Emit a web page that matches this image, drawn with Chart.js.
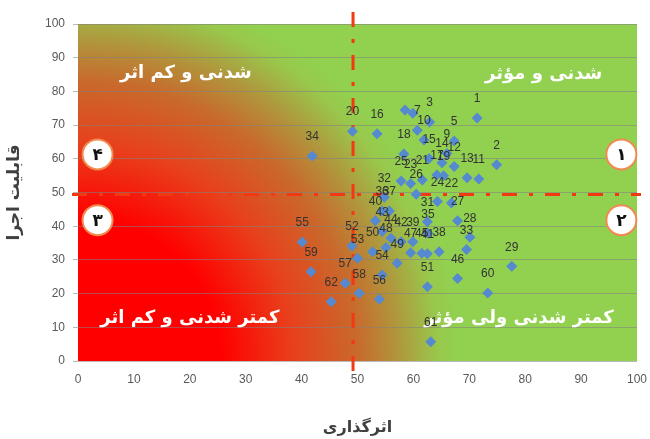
<!DOCTYPE html>
<html>
<head>
<meta charset="utf-8">
<script src="https://cdn.jsdelivr.net/npm/chart.js@4.4.1/dist/chart.umd.min.js"></script>
<style>
  html, body { margin: 0; background: #fff; }
  #wrap { width: 650px; height: 439px; }
</style>
</head>
<body>
<div id="wrap"><canvas id="chart"></canvas></div>
<script>
// project numbers (empty = label hidden in the original)
const pointLabels = ["1", "2", "3", "5", "7", "9", "10", "11", "12", "13", "14", "15", "16", "17", "18", "19", "20", "21", "22", "23",
  "24", "25", "26", "27", "28", "29", "31", "32", "33", "34", "35", "36", "37", "38", "39", "40", "41", "42", "43", "44",
  "45", "46", "47", "48", "49", "50", "51", "52", "53", "54", "55", "56", "57", "58", "59", "60", "61", "62", "", ""];
// اثرگذاری
const impact = [71.4, 74.9, 62.9, 67.3, 60.7, 66.0, 61.9, 71.7, 67.3, 69.6, 65.1, 62.8, 53.5, 64.2, 58.3, 65.4, 49.1, 61.6, 66.8, 59.5,
  64.3, 57.8, 60.5, 67.9, 70.1, 77.6, 62.5, 54.8, 69.5, 41.9, 62.6, 54.4, 55.7, 64.6, 59.9, 53.2, 62.5, 57.8, 54.4, 56.0,
  61.5, 67.9, 59.5, 55.1, 57.1, 52.7, 62.5, 49.0, 50.0, 54.4, 40.1, 53.9, 47.8, 50.3, 41.7, 73.3, 63.1, 45.3, 58.5, 59.9];
// قابلیت اجرا
const feasibility = [72.1, 58.2, 70.9, 65.3, 68.5, 61.6, 65.6, 54.0, 57.7, 54.4, 58.8, 60.1, 67.4, 55.2, 61.4, 55.0, 68.2, 53.7, 46.9, 52.7,
  47.3, 53.4, 49.5, 41.6, 36.7, 28.1, 41.3, 48.6, 33.1, 60.8, 37.9, 44.5, 44.5, 32.4, 35.4, 41.6, 31.8, 35.4, 38.4, 36.4,
  32.0, 24.5, 32.1, 33.7, 29.0, 32.4, 22.0, 34.1, 30.5, 25.5, 35.3, 18.3, 23.1, 20.1, 26.5, 20.2, 5.7, 17.6, 74.5, 73.5];

const thresholdX = 49.2;
const thresholdY = 49.4;

const quadrants = [
  { text: "شدنی و کم اثر", x: 19.3, y: 85.5 },
  { text: "شدنی و مؤثر", x: 83.3, y: 85 },
  { text: "کمتر شدنی و کم اثر", x: 20, y: 12.8 },
  { text: "کمتر شدنی ولی مؤثر", x: 78.9, y: 12.8 },
];
const badges = [
  { text: "۴", x: 3.5, y: 61.3 },
  { text: "۳", x: 3.5, y: 41.8 },
  { text: "۱", x: 97.2, y: 61.3 },
  { text: "۲", x: 97.2, y: 41.8 },
];

const points = impact.map((x, i) => ({ x: x, y: feasibility[i] }));

const background = {
  id: "background",
  beforeDraw(chart) {
    const { ctx, chartArea: a } = chart;
    const g = ctx.createRadialGradient(a.left, a.bottom, 0, a.left, a.bottom, 400);
    g.addColorStop(0, "#ff0000");
    g.addColorStop(0.36, "#ff0000");
    g.addColorStop(0.54, "#e8401c");
    g.addColorStop(0.7, "#c86a2c");
    g.addColorStop(0.8, "#b0963c");
    g.addColorStop(0.9, "#98c84c");
    g.addColorStop(0.95, "#92d050");
    g.addColorStop(1, "#92d050");
    ctx.save();
    ctx.fillStyle = g;
    ctx.fillRect(a.left, a.top, a.right - a.left, a.bottom - a.top);
    ctx.restore();
  },
};

const overlay = {
  id: "overlay",
  beforeDatasetsDraw(chart) {
    const { ctx, chartArea: a, scales } = chart;
    const px = scales.x.getPixelForValue(thresholdX);
    const py = scales.y.getPixelForValue(thresholdY);
    ctx.save();

    // quadrant names
    ctx.fillStyle = "#ffffff";
    ctx.font = "bold 18px 'DejaVu Sans'";
    ctx.textAlign = "center";
    ctx.textBaseline = "middle";
    quadrants.forEach((q) => {
      ctx.fillText(q.text, scales.x.getPixelForValue(q.x), scales.y.getPixelForValue(q.y));
    });

    // dash-dot threshold lines
    ctx.strokeStyle = "#f23a12";
    ctx.lineWidth = 3;
    ctx.setLineDash([15, 12, 4, 12]);
    ctx.beginPath();
    ctx.moveTo(px, a.top - 12);
    ctx.lineTo(px, a.bottom + 14);
    ctx.moveTo(a.left - 6, py);
    ctx.lineTo(a.right + 4, py);
    ctx.stroke();
    ctx.setLineDash([]);

    // numbered circles
    badges.forEach((b) => {
      const bx = scales.x.getPixelForValue(b.x);
      const by = scales.y.getPixelForValue(b.y);
      ctx.beginPath();
      ctx.arc(bx, by, 15, 0, Math.PI * 2);
      ctx.fillStyle = "#ffffff";
      ctx.fill();
      ctx.lineWidth = 2;
      ctx.strokeStyle = "#f08a50";
      ctx.stroke();
      ctx.fillStyle = "#111111";
      ctx.font = "bold 17px 'DejaVu Sans'";
      ctx.fillText(b.text, bx, by + 1);
    });
    ctx.restore();
  },
  afterDatasetsDraw(chart) {
    const { ctx } = chart;
    const meta = chart.getDatasetMeta(0);
    ctx.save();
    ctx.fillStyle = "#333333";
    ctx.font = "12px 'Liberation Sans'";
    ctx.textAlign = "center";
    ctx.textBaseline = "middle";
    meta.data.forEach((el, i) => {
      if (pointLabels[i]) ctx.fillText(pointLabels[i], el.x, el.y - 19);
    });
    ctx.restore();
  },
};

new Chart(document.getElementById("chart"), {
  type: "scatter",
  data: {
    datasets: [
      {
        data: points,
        pointStyle: "rectRot",
        pointRadius: 5.5,
        backgroundColor: "#5589d0",
        borderWidth: 0,
      },
    ],
  },
  options: {
    responsive: true,
    maintainAspectRatio: false,
    animation: false,
    layout: { padding: { top: 24, right: 0, left: 0, bottom: 0 } },
    plugins: {
      legend: { display: false },
      tooltip: { enabled: false },
    },
    scales: {
      x: {
        min: 0,
        max: 100,
        afterFit: (s) => {
          s.height = 78;
          s.paddingLeft = 0;
          s.paddingRight = 13;
        },
        ticks: { stepSize: 10, color: "#595959", font: { size: 12, family: "'Liberation Sans'" }, padding: 11 },
        grid: { drawOnChartArea: false, drawTicks: false, color: "transparent" },
        border: { display: false },
        title: {
          display: true,
          text: "اثرگذاری",
          color: "#404040",
          font: { size: 16, weight: "bold", family: "'DejaVu Sans'" },
          padding: { top: 0, bottom: 2 },
        },
      },
      y: {
        min: 0,
        max: 100,
        afterFit: (s) => { s.width = 78; },
        ticks: { stepSize: 10, color: "#595959", font: { size: 12, family: "'Liberation Sans'" }, padding: 8 },
        grid: { color: "rgba(130,130,130,0.55)", tickLength: 5 },
        border: { display: false },
        title: {
          display: true,
          text: "قابلیت اجرا",
          color: "#404040",
          font: { size: 17, weight: "bold", family: "'DejaVu Sans'" },
          padding: { top: 4, bottom: 0 },
        },
      },
    },
  },
  plugins: [background, overlay],
});
</script>
</body>
</html>
